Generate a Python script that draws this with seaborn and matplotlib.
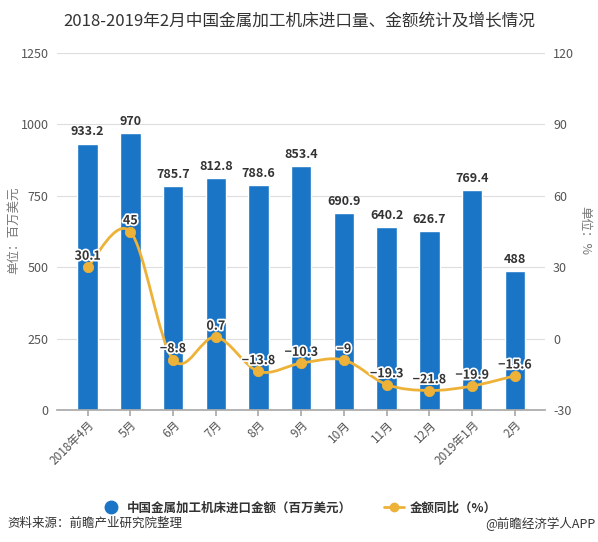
import numpy as np
import pandas as pd
import matplotlib
matplotlib.use("Agg")
import matplotlib.pyplot as plt
import matplotlib.patheffects as pe
from matplotlib.path import Path
from matplotlib.patches import PathPatch
from matplotlib.lines import Line2D
import seaborn as sns

months = ["2018年4月", "5月", "6月", "7月", "8月", "9月", "10月", "11月", "12月", "2019年1月", "2月"]
amount = [933.2, 970, 785.7, 812.8, 788.6, 853.4, 690.9, 640.2, 626.7, 769.4, 488]
growth = [30.1, 45, -8.8, 0.7, -13.8, -10.3, -9, -19.3, -21.8, -19.9, -15.6]
left_ticks = [0, 250, 500, 750, 1000, 1250]
right_ticks = [-30, 0, 30, 60, 90, 120]

sns.set_theme(style="white")
plt.rcParams['font.family'] = ['Noto Sans CJK SC', 'DejaVu Sans']

BLUE = "#1B75C6"
ORANGE = "#EDB237"
GRID = "#DDDDDD"
TXT = "#555555"

df = pd.DataFrame({"month": months, "amount": amount, "growth": growth})

fig = plt.figure(figsize=(5.98, 5.42), dpi=100)
ax = fig.add_axes([0.095, 0.2435, 0.816, 0.6585])

sns.barplot(data=df, x="month", y="amount", color=BLUE, saturation=1, width=0.48, ax=ax, zorder=2)
ax.set_ylim(0, 1250)
ax.set_xlim(-0.72, 10.7)
ax.set_yticks(left_ticks)
ax.set_yticklabels([str(t) for t in left_ticks], color=TXT, fontsize=9)
ax.grid(axis="y", color=GRID, linewidth=0.8, zorder=0)
ax.set_axisbelow(True)
for s in ["top", "right", "left"]:
    ax.spines[s].set_visible(False)
ax.spines["bottom"].set_color("#AAAAAA")
ax.tick_params(axis="y", length=0, pad=6)
ax.tick_params(axis="x", length=4, color="#AAAAAA", pad=2, bottom=True)
ax.set_xticks(range(len(months)))
ax.set_xticklabels(months, rotation=45, ha="right", rotation_mode="anchor", color=TXT, fontsize=8.5)
ax.set_xlabel("")
ax.set_ylabel("")

for i, v in enumerate(amount):
    ax.text(i, v + 18, f"{v:g}", ha="center", va="bottom", fontsize=9, fontweight="bold", color="#333333", zorder=5)

ax2 = ax.twinx()
ax2.set_ylim(-30, 120)
ax2.set_yticks(right_ticks)
ax2.set_yticklabels([str(t) for t in right_ticks], color=TXT, fontsize=9)
ax2.tick_params(axis="y", length=0, pad=6)
for s in ["top", "right", "left", "bottom"]:
    ax2.spines[s].set_visible(False)
ax2.grid(False)

# smooth curve through the points (Catmull-Rom to Bezier)
x = np.arange(len(growth), dtype=float)
y = np.array(growth, dtype=float)
k = 0.5
verts = [(x[0], y[0])]
codes = [Path.MOVETO]
n = len(x)
for i in range(n - 1):
    p0 = np.array([x[max(i - 1, 0)], y[max(i - 1, 0)]])
    p1 = np.array([x[i], y[i]])
    p2 = np.array([x[i + 1], y[i + 1]])
    p3 = np.array([x[min(i + 2, n - 1)], y[min(i + 2, n - 1)]])
    c1 = p1 + (p2 - p0) * k / 3
    c2 = p2 - (p3 - p1) * k / 3
    verts += [tuple(c1), tuple(c2), tuple(p2)]
    codes += [Path.CURVE4] * 3
patch = PathPatch(Path(verts, codes), facecolor="none", edgecolor=ORANGE, linewidth=2, zorder=3)
ax2.add_patch(patch)
sns.scatterplot(data=df, x=np.arange(len(growth)), y="growth", color=ORANGE, s=55, edgecolor=ORANGE, ax=ax2, zorder=4, legend=False)
ax2.set_ylabel("")
ax2.set_xlabel("")

for i, v in enumerate(growth):
    t = ax2.text(i, v + 1.8, f"{v:g}".replace("-", "−"), ha="center", va="bottom", fontsize=9, fontweight="bold", color="#333333", zorder=6)
    t.set_path_effects([pe.withStroke(linewidth=2.5, foreground="white")])

fig.text(0.022, 0.575, "单位：百万美元", ha="center", va="center", rotation=90, fontsize=9, color="#777777")
fig.text(0.978, 0.575, "单位：%", ha="center", va="center", rotation=-90, fontsize=9, color="#777777")

fig.text(0.5, 0.962, "2018-2019年2月中国金属加工机床进口量、金额统计及增长情况", ha="center", va="center", fontsize=12, color="#333333")

handles = [
    Line2D([0], [0], marker="o", color="none", markerfacecolor=BLUE, markeredgecolor=BLUE, markersize=9),
    Line2D([0], [0], marker="o", color=ORANGE, markerfacecolor=ORANGE, markeredgecolor=ORANGE, markersize=6, linewidth=2),
]
leg = fig.legend(handles, ["中国金属加工机床进口金额（百万美元）", "金额同比（%）"], loc="center", bbox_to_anchor=(0.5, 0.063),
                 ncol=2, frameon=False, fontsize=9, handlelength=1.6, columnspacing=2.5, handletextpad=0.5)
for t in leg.get_texts():
    t.set_color("#333333")
    t.set_fontweight("bold")

fig.text(0.012, 0.034, "资料来源：前瞻产业研究院整理", ha="left", va="center", fontsize=9, style="italic", color="#333333")
fig.text(0.995, 0.034, "@前瞻经济学人APP", ha="right", va="center", fontsize=9, color="#333333")

fig.savefig("out.png", dpi=100)
